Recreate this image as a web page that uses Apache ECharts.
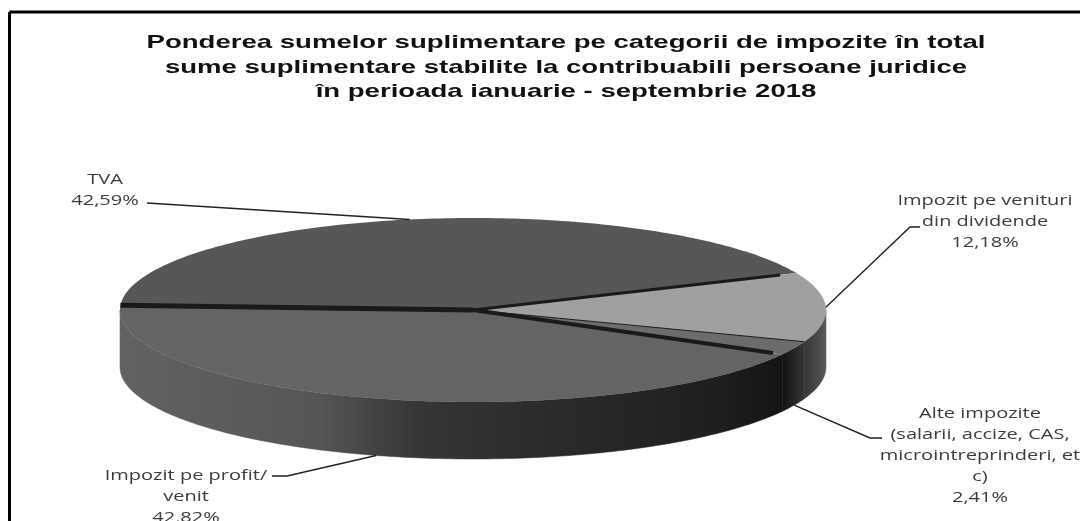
<!DOCTYPE html>
<html>
<head>
<meta charset="utf-8">
<style>html,body{margin:0;padding:0;background:#fff}#c{width:1080px;height:521px}</style>
<script src="https://cdn.jsdelivr.net/npm/echarts@6/dist/echarts.min.js"></script>
</head>
<body>
<div id="c"></div>
<script>
const titleLines = [
  'Ponderea sumelor suplimentare pe categorii de impozite în total',
  'sume suplimentare stabilite la contribuabili persoane juridice',
  'în perioada ianuarie - septembrie 2018'
];
const categories = [
  'TVA',
  'Impozit pe venituri\ndin dividende',
  'Alte impozite\n(salarii, accize, CAS,\nmicrointreprinderi, et\nc)',
  'Impozit pe profit/\nvenit'
];
const values = [42.59, 12.18, 2.41, 42.82];
const sliceColors = ['#575757', '#a0a0a0', '#6c6c6c', '#646464'];

// Layout of the drawing, separate from the data
const pie = { cx: 473, cy: 310, rx: 353, ry: 92, depth: 57, start: 273 };
const gapWidths = [3, 1, 4, 5];
const gapReach = [0.95, 1, 0.97, 1];
const textStretch = 1.38;
const titleStretch = 1.45;
const labelLayout = [
  { x: 105, y: 169, path: [[147, 203]] },
  { x: 985, y: 190, path: [[920, 227], [910, 227]] },
  { x: 980, y: 403, path: [[882, 438], [870, 438]] },
  { x: 186, y: 465, path: [[272, 476], [287, 476]] }
];
const total = values.reduce((a, b) => a + b, 0);

function rim(deg, k, dy) {
  const t = deg * Math.PI / 180;
  return [pie.cx + pie.rx * k * Math.sin(t), pie.cy - pie.ry * k * Math.cos(t) + (dy || 0)];
}
function arcPts(a, b, dy) {
  const pts = [], n = Math.max(2, Math.ceil(Math.abs(b - a)));
  for (let i = 0; i <= n; i++) pts.push(rim(a + (b - a) * i / n, 1, dy));
  return pts;
}
const sideFill = {
  type: 'linear', global: true,
  x: pie.cx - pie.rx, y: 0, x2: pie.cx + pie.rx, y2: 0,
  colorStops: [
    { offset: 0, color: '#626262' }, { offset: 0.28, color: '#565656' },
    { offset: 0.42, color: '#363636' }, { offset: 0.55, color: '#2e2e2e' },
    { offset: 0.85, color: '#1e1e1e' }, { offset: 0.94, color: '#141414' },
    { offset: 1, color: '#585858' }
  ]
};

function renderSlice(params, api) {
  const i = params.dataIndex;
  const before = values.slice(0, i).reduce((a, b) => a + b, 0);
  const a0 = pie.start + before / total * 360;
  const a1 = a0 + api.value(0) / total * 360;
  const mid = (a0 + a1) / 2;
  const children = [];

  // Visible outer wall: the part of the slice between 90 and 270 degrees
  [[90, 270], [450, 630]].forEach(([lo, hi]) => {
    const s = Math.max(a0, lo), e = Math.min(a1, hi);
    if (e > s) {
      const top = arcPts(s, e, 0), bottom = arcPts(e, s, pie.depth);
      children.push({
        type: 'polygon', z2: 1,
        shape: { points: top.concat(bottom) },
        style: { fill: sideFill, stroke: sideFill, lineWidth: 0.5 }
      });
    }
  });

  // Top face
  children.push({
    type: 'polygon', z2: 2,
    shape: { points: [[pie.cx, pie.cy]].concat(arcPts(a0, a1, 0)) },
    style: { fill: api.visual('color') }
  });

  // Dark seam at the slice's end
  const seamEnd = rim(a1, gapReach[i]);
  children.push({
    type: 'line', z2: 3,
    shape: { x1: pie.cx, y1: pie.cy, x2: seamEnd[0], y2: seamEnd[1] },
    style: { stroke: '#1a1a1a', lineWidth: gapWidths[i] }
  });

  // Leader line, anchored at the slice's middle angle
  const c = Math.cos(mid * Math.PI / 180);
  const anchor = rim(mid, 1, c < -0.1 ? pie.depth : 0);
  children.push({
    type: 'polyline', z2: 4,
    shape: { points: labelLayout[i].path.concat([anchor]) },
    style: { stroke: '#222', lineWidth: 1.4, fill: null }
  });

  // Label
  children.push({
    type: 'text', z2: 5,
    x: labelLayout[i].x, y: labelLayout[i].y, scaleX: textStretch,
    style: {
      text: categories[i] + '\n' + values[i].toFixed(2).replace('.', ',') + '%',
      fill: '#3c3c3c', font: '14.5px "Open Sans"', lineHeight: 21,
      align: 'center', verticalAlign: 'top'
    }
  });
  return { type: 'group', children };
}

const chart = echarts.init(document.getElementById('c'));
chart.setOption({
  animation: false,
  backgroundColor: '#fff',
  color: sliceColors,
  graphic: [
    { type: 'line', shape: { x1: 9.5, y1: 12, x2: 1080, y2: 12 }, style: { stroke: '#000', lineWidth: 3 } },
    { type: 'line', shape: { x1: 9.5, y1: 12, x2: 9.5, y2: 521 }, style: { stroke: '#000', lineWidth: 3 } },
    {
      type: 'text', x: 566, y: 31, scaleX: titleStretch,
      style: {
        text: titleLines.join('\n'), fill: '#111',
        font: 'bold 19px "Liberation Sans"', lineHeight: 24.5,
        align: 'center', verticalAlign: 'top'
      }
    }
  ],
  series: [{
    type: 'custom',
    coordinateSystem: 'none',
    clip: false,
    colorBy: 'data',
    data: values,
    renderItem: renderSlice
  }]
});
</script>
</body>
</html>
